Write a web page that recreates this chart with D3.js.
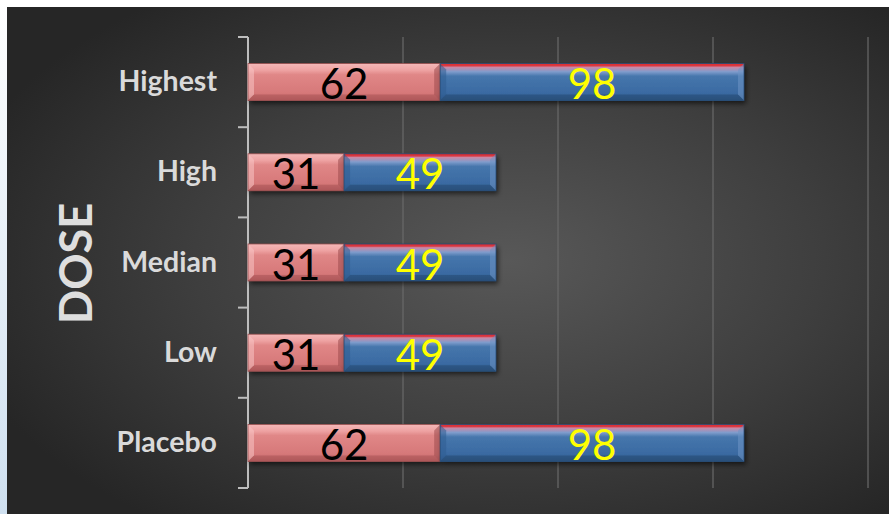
<!DOCTYPE html>
<html>
<head>
<meta charset="utf-8">
<script src="https://cdn.jsdelivr.net/npm/d3@7"></script>
<style>
  html, body { margin: 0; padding: 0; background: #fff; }
  svg { display: block; }
</style>
</head>
<body>
<svg id="chart" width="889" height="514"></svg>
<script>
// Dose groups (top to bottom) and the two stacked series
const categories = ["Highest", "High", "Median", "Low", "Placebo"];
const seriesA = [62, 31, 31, 31, 62];   // red segment
const seriesB = [98, 49, 49, 49, 98];   // blue segment
const tickValues = [0, 50, 100, 150, 200];
const axisTitle = "DOSE";

const W = 889, H = 514;
const svg = d3.select("#chart");
const defs = svg.append("defs");

// Panel background: soft radial glow toward the middle
const bg = defs.append("radialGradient").attr("id", "bgGrad")
  .attr("cx", "57%").attr("cy", "50%").attr("r", "65%");
bg.append("stop").attr("offset", "0%").attr("stop-color", "#585858");
bg.append("stop").attr("offset", "55%").attr("stop-color", "#3e3e3e");
bg.append("stop").attr("offset", "100%").attr("stop-color", "#262626");

const edge = defs.append("linearGradient").attr("id", "edgeGrad")
  .attr("x1", 0).attr("y1", 0).attr("x2", 0).attr("y2", 1);
edge.append("stop").attr("offset", "0%").attr("stop-color", "#ffffff");
edge.append("stop").attr("offset", "100%").attr("stop-color", "#cfe0f0");

svg.append("rect").attr("width", W).attr("height", H).attr("fill", "#fff");
svg.append("rect").attr("x", 0).attr("y", 0).attr("width", 8).attr("height", H).attr("fill", "url(#edgeGrad)");
svg.append("rect").attr("x", 7).attr("y", 7).attr("width", W - 7).attr("height", H - 7).attr("fill", "url(#bgGrad)");

// Drop shadow under bars
const f = defs.append("filter").attr("id", "shadow")
  .attr("x", "-5%").attr("y", "-20%").attr("width", "115%").attr("height", "160%");
f.append("feDropShadow").attr("dx", 2).attr("dy", 3).attr("stdDeviation", 2.5)
  .attr("flood-color", "#000").attr("flood-opacity", 0.6);

// Vertical shading for each series
function vGrad(id, stops) {
  const g = defs.append("linearGradient").attr("id", id)
    .attr("x1", 0).attr("y1", 0).attr("x2", 0).attr("y2", 1);
  stops.forEach(([o, c]) => g.append("stop").attr("offset", o).attr("stop-color", c));
}
vGrad("redGrad", [["0%", "#f4b8b8"], ["18%", "#eea2a2"], ["30%", "#e08787"], ["80%", "#d67879"], ["100%", "#b55d5f"]]);
vGrad("blueGrad", [["0%", "#e02a2a"], ["6%", "#d83a46"], ["10%", "#c88aa8"], ["22%", "#7f9ccc"], ["34%", "#4676ac"], ["80%", "#3a6aa2"], ["100%", "#2d5582"]]);

const margin = { left: 248, right: 21, top: 37, bottom: 26 };
const x = d3.scaleLinear().domain([0, 200]).range([margin.left, margin.left + 620]);
const y = d3.scaleBand().domain(categories).range([margin.top, H - margin.bottom]);

// Vertical gridlines
svg.append("g").selectAll("line").data(tickValues.filter(d => d > 0)).join("line")
  .attr("x1", d => x(d)).attr("x2", d => x(d))
  .attr("y1", margin.top).attr("y2", H - margin.bottom)
  .attr("stroke", "#6a6a6a").attr("stroke-width", 1.2);

// Category axis with ticks between groups
const yAxisG = svg.append("g").attr("transform", `translate(${margin.left},0)`);
yAxisG.append("line").attr("x1", 0).attr("x2", 0)
  .attr("y1", margin.top).attr("y2", H - margin.bottom)
  .attr("stroke", "#bdbdbd").attr("stroke-width", 2);
const boundaries = categories.map(c => y(c)).concat([y(categories[categories.length - 1]) + y.bandwidth()]);
yAxisG.selectAll(".tk").data(boundaries).join("line")
  .attr("x1", -10).attr("x2", 0).attr("y1", d => d).attr("y2", d => d)
  .attr("stroke", "#bdbdbd").attr("stroke-width", 2);

const bandMid = c => y(c) + y.bandwidth() / 2;

yAxisG.selectAll("text").data(categories).join("text")
  .attr("x", -31).attr("y", d => bandMid(d) - 2)
  .attr("text-anchor", "end").attr("dominant-baseline", "central")
  .attr("font-family", "Lato, 'Open Sans', sans-serif").attr("font-weight", 700)
  .attr("font-size", 28.5).attr("fill", "#dadada")
  .text(d => d);

svg.append("text")
  .attr("transform", `translate(75,${(margin.top + H - margin.bottom) / 2 + 1}) rotate(-90)`)
  .attr("text-anchor", "middle").attr("dominant-baseline", "central")
  .attr("font-family", "Lato, 'Open Sans', sans-serif").attr("font-weight", 700)
  .attr("font-size", 45).attr("fill", "#dedede")
  .text(axisTitle);

// Stacked segments
const rows = categories.map((c, i) => ({ c, a: seriesA[i], b: seriesB[i] }));
const barH = 37;
const segs = [];
rows.forEach(r => {
  segs.push({ c: r.c, x0: 0, x1: r.a, v: r.a, kind: "a" });
  segs.push({ c: r.c, x0: r.a, x1: r.a + r.b, v: r.b, kind: "b" });
});

const bev = 6;
const barsG = svg.append("g");
const segG = barsG.selectAll("g.seg").data(segs).join("g").attr("class", "seg")
  .attr("transform", d => `translate(${x(d.x0)},${bandMid(d.c) - barH / 2})`);

segG.append("rect")
  .attr("width", d => x(d.x1) - x(d.x0)).attr("height", barH)
  .attr("fill", d => d.kind === "a" ? "url(#redGrad)" : "url(#blueGrad)")
  .attr("filter", "url(#shadow)");

// Bevel facets: left, right, bottom
segG.append("path")
  .attr("d", `M0,0 L${bev},${bev} L${bev},${barH - bev} L0,${barH} Z`)
  .attr("fill", d => d.kind === "a" ? "#f7c4c4" : "#2f5d92").attr("opacity", 0.55);
segG.append("path")
  .attr("d", d => { const w = x(d.x1) - x(d.x0); return `M${w},0 L${w - bev},${bev} L${w - bev},${barH - bev} L${w},${barH} Z`; })
  .attr("fill", d => d.kind === "a" ? "#9c4a4c" : "#6d93c4").attr("opacity", 0.55);
segG.append("path")
  .attr("d", d => { const w = x(d.x1) - x(d.x0); return `M0,${barH} L${bev},${barH - bev} L${w - bev},${barH - bev} L${w},${barH} Z`; })
  .attr("fill", d => d.kind === "a" ? "#a85254" : "#23476f").attr("opacity", 0.5);
segG.append("rect")
  .attr("width", d => x(d.x1) - x(d.x0)).attr("height", barH)
  .attr("fill", "none").attr("stroke", d => d.kind === "a" ? "#9a5050" : "#294f7a").attr("stroke-width", 0.8);

// Value labels centred in each segment
segG.append("text")
  .attr("x", d => (x(d.x1) - x(d.x0)) / 2).attr("y", barH / 2 + 1)
  .attr("text-anchor", "middle").attr("dominant-baseline", "central")
  .attr("font-family", "Lato, 'Open Sans', sans-serif").attr("font-size", 42)
  .attr("fill", d => d.kind === "a" ? "#000000" : "#ffff00")
  .text(d => d.v);
</script>
</body>
</html>
